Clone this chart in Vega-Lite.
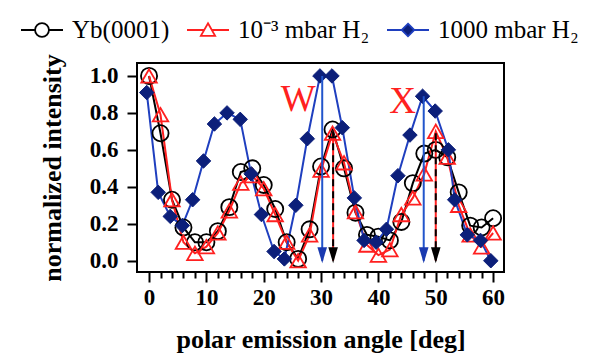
{
  "$schema": "https://vega.github.io/schema/vega-lite/v6.json",
  "width": 367,
  "height": 209,
  "autosize": {"type": "none"},
  "padding": {"left": 137, "top": 63, "right": 97, "bottom": 88},
  "background": "white",
  "config": {
    "view": {"stroke": "#000", "strokeWidth": 2},
    "font": "Liberation Serif"
  },
  "datasets": {
    "series": [
      {"series": "Yb(0001)", "angle": 0, "intensity": 1.0},
      {"series": "Yb(0001)", "angle": 2, "intensity": 0.69},
      {"series": "Yb(0001)", "angle": 4, "intensity": 0.33},
      {"series": "Yb(0001)", "angle": 6, "intensity": 0.18},
      {"series": "Yb(0001)", "angle": 8, "intensity": 0.10},
      {"series": "Yb(0001)", "angle": 10, "intensity": 0.10},
      {"series": "Yb(0001)", "angle": 12, "intensity": 0.16},
      {"series": "Yb(0001)", "angle": 14, "intensity": 0.29},
      {"series": "Yb(0001)", "angle": 16, "intensity": 0.48},
      {"series": "Yb(0001)", "angle": 18, "intensity": 0.50},
      {"series": "Yb(0001)", "angle": 20, "intensity": 0.41},
      {"series": "Yb(0001)", "angle": 22, "intensity": 0.28},
      {"series": "Yb(0001)", "angle": 24, "intensity": 0.10},
      {"series": "Yb(0001)", "angle": 26, "intensity": 0.01},
      {"series": "Yb(0001)", "angle": 28, "intensity": 0.17},
      {"series": "Yb(0001)", "angle": 30, "intensity": 0.51},
      {"series": "Yb(0001)", "angle": 32, "intensity": 0.71},
      {"series": "Yb(0001)", "angle": 34, "intensity": 0.50},
      {"series": "Yb(0001)", "angle": 36, "intensity": 0.26},
      {"series": "Yb(0001)", "angle": 38, "intensity": 0.14},
      {"series": "Yb(0001)", "angle": 40, "intensity": 0.13},
      {"series": "Yb(0001)", "angle": 42, "intensity": 0.11},
      {"series": "Yb(0001)", "angle": 44, "intensity": 0.21},
      {"series": "Yb(0001)", "angle": 46, "intensity": 0.42},
      {"series": "Yb(0001)", "angle": 48, "intensity": 0.58},
      {"series": "Yb(0001)", "angle": 50, "intensity": 0.60},
      {"series": "Yb(0001)", "angle": 52, "intensity": 0.56},
      {"series": "Yb(0001)", "angle": 54, "intensity": 0.37},
      {"series": "Yb(0001)", "angle": 56, "intensity": 0.19},
      {"series": "Yb(0001)", "angle": 58, "intensity": 0.18},
      {"series": "Yb(0001)", "angle": 60, "intensity": 0.23},
      {"series": "10⁻³ mbar H₂", "angle": 0, "intensity": 1.0},
      {"series": "10⁻³ mbar H₂", "angle": 2, "intensity": 0.79},
      {"series": "10⁻³ mbar H₂", "angle": 4, "intensity": 0.33},
      {"series": "10⁻³ mbar H₂", "angle": 6, "intensity": 0.10},
      {"series": "10⁻³ mbar H₂", "angle": 8, "intensity": 0.04},
      {"series": "10⁻³ mbar H₂", "angle": 10, "intensity": 0.076},
      {"series": "10⁻³ mbar H₂", "angle": 12, "intensity": 0.15},
      {"series": "10⁻³ mbar H₂", "angle": 14, "intensity": 0.27},
      {"series": "10⁻³ mbar H₂", "angle": 16, "intensity": 0.42},
      {"series": "10⁻³ mbar H₂", "angle": 18, "intensity": 0.46},
      {"series": "10⁻³ mbar H₂", "angle": 20, "intensity": 0.39},
      {"series": "10⁻³ mbar H₂", "angle": 22, "intensity": 0.25},
      {"series": "10⁻³ mbar H₂", "angle": 24, "intensity": 0.10},
      {"series": "10⁻³ mbar H₂", "angle": 26, "intensity": 0.0},
      {"series": "10⁻³ mbar H₂", "angle": 28, "intensity": 0.14},
      {"series": "10⁻³ mbar H₂", "angle": 30, "intensity": 0.49},
      {"series": "10⁻³ mbar H₂", "angle": 32, "intensity": 0.69},
      {"series": "10⁻³ mbar H₂", "angle": 34, "intensity": 0.53},
      {"series": "10⁻³ mbar H₂", "angle": 36, "intensity": 0.265},
      {"series": "10⁻³ mbar H₂", "angle": 38, "intensity": 0.085},
      {"series": "10⁻³ mbar H₂", "angle": 40, "intensity": 0.03},
      {"series": "10⁻³ mbar H₂", "angle": 42, "intensity": 0.06},
      {"series": "10⁻³ mbar H₂", "angle": 44, "intensity": 0.25},
      {"series": "10⁻³ mbar H₂", "angle": 46, "intensity": 0.34},
      {"series": "10⁻³ mbar H₂", "angle": 48, "intensity": 0.47},
      {"series": "10⁻³ mbar H₂", "angle": 50, "intensity": 0.70},
      {"series": "10⁻³ mbar H₂", "angle": 52, "intensity": 0.56},
      {"series": "10⁻³ mbar H₂", "angle": 54, "intensity": 0.30},
      {"series": "10⁻³ mbar H₂", "angle": 56, "intensity": 0.14},
      {"series": "10⁻³ mbar H₂", "angle": 58, "intensity": 0.075},
      {"series": "10⁻³ mbar H₂", "angle": 60, "intensity": 0.15},
      {"series": "1000 mbar H₂", "angle": -0.4, "intensity": 0.91},
      {"series": "1000 mbar H₂", "angle": 1.6, "intensity": 0.37},
      {"series": "1000 mbar H₂", "angle": 3.7, "intensity": 0.24},
      {"series": "1000 mbar H₂", "angle": 5.8, "intensity": 0.19},
      {"series": "1000 mbar H₂", "angle": 7.6, "intensity": 0.33},
      {"series": "1000 mbar H₂", "angle": 9.5, "intensity": 0.54},
      {"series": "1000 mbar H₂", "angle": 11.4, "intensity": 0.74},
      {"series": "1000 mbar H₂", "angle": 13.6, "intensity": 0.80},
      {"series": "1000 mbar H₂", "angle": 15.9, "intensity": 0.765},
      {"series": "1000 mbar H₂", "angle": 17.8, "intensity": 0.47},
      {"series": "1000 mbar H₂", "angle": 19.6, "intensity": 0.25},
      {"series": "1000 mbar H₂", "angle": 21.8, "intensity": 0.05},
      {"series": "1000 mbar H₂", "angle": 23.6, "intensity": 0.01},
      {"series": "1000 mbar H₂", "angle": 25.6, "intensity": 0.30},
      {"series": "1000 mbar H₂", "angle": 27.6, "intensity": 0.66},
      {"series": "1000 mbar H₂", "angle": 29.8, "intensity": 1.0},
      {"series": "1000 mbar H₂", "angle": 31.9, "intensity": 1.0},
      {"series": "1000 mbar H₂", "angle": 33.7, "intensity": 0.72},
      {"series": "1000 mbar H₂", "angle": 35.8, "intensity": 0.34},
      {"series": "1000 mbar H₂", "angle": 37.5, "intensity": 0.11},
      {"series": "1000 mbar H₂", "angle": 39.6, "intensity": 0.10},
      {"series": "1000 mbar H₂", "angle": 41.4, "intensity": 0.17},
      {"series": "1000 mbar H₂", "angle": 43.4, "intensity": 0.46},
      {"series": "1000 mbar H₂", "angle": 45.5, "intensity": 0.68},
      {"series": "1000 mbar H₂", "angle": 47.7, "intensity": 0.89},
      {"series": "1000 mbar H₂", "angle": 49.9, "intensity": 0.81},
      {"series": "1000 mbar H₂", "angle": 52.2, "intensity": 0.60},
      {"series": "1000 mbar H₂", "angle": 53.3, "intensity": 0.33},
      {"series": "1000 mbar H₂", "angle": 55.5, "intensity": 0.14},
      {"series": "1000 mbar H₂", "angle": 57.8, "intensity": 0.11},
      {"series": "1000 mbar H₂", "angle": 59.6, "intensity": 0.0}
    ],
    "arrows": [
      {"arrow": "blue", "angle": 30.2, "intensity": 1.0, "tip": 0},
      {"arrow": "dashed", "angle": 32.1, "intensity": 0.70, "tip": 0},
      {"arrow": "blue", "angle": 47.9, "intensity": 0.89, "tip": 0},
      {"arrow": "dashed", "angle": 50.0, "intensity": 0.69, "tip": 0}
    ],
    "heads": [
      {"arrow": "blue", "angle": 30.2, "intensity": 0},
      {"arrow": "dashed", "angle": 32.1, "intensity": 0},
      {"arrow": "blue", "angle": 47.9, "intensity": 0},
      {"arrow": "dashed", "angle": 50.0, "intensity": 0}
    ],
    "labels": [
      {"label": "W", "angle": 26.0, "intensity": 0.87},
      {"label": "X", "angle": 44.2, "intensity": 0.86}
    ]
  },
  "encoding": {
    "x": {
      "field": "angle", "type": "quantitative",
      "scale": {"domain": [-2.1, 61.9], "nice": false, "zero": false},
      "axis": {
        "title": "polar emission angle [deg]",
        "values": [0,2,4,6,8,10,12,14,16,18,20,22,24,26,28,30,32,34,36,38,40,42,44,46,48,50,52,54,56,58,60],
        "labelExpr": "datum.value % 10 === 0 ? datum.label : ''",
        "tickSize": {"condition": {"test": "datum.value % 10 === 0", "value": 10}, "value": 6},
        "tickWidth": 2, "tickColor": "#000",
        "domain": false, "grid": false,
        "labelFont": "Liberation Serif", "labelFontWeight": "bold", "labelFontSize": 23, "labelColor": "#000",
        "labelPadding": 4, "labelOverlap": false, "labelFlush": false, "labelBound": false,
        "titleFont": "Liberation Serif", "titleFontWeight": "bold", "titleFontSize": 26, "titleColor": "#000",
        "titlePadding": 17
      }
    },
    "y": {
      "field": "intensity", "type": "quantitative",
      "scale": {"domain": [-0.061, 1.07], "nice": false, "zero": false},
      "axis": {
        "title": "normalized intensity",
        "values": [0, 0.2, 0.4, 0.6, 0.8, 1.0],
        "format": ".1f",
        "tickSize": 10, "tickWidth": 2, "tickColor": "#000",
        "domain": false, "grid": false,
        "labelFont": "Liberation Serif", "labelFontWeight": "bold", "labelFontSize": 23, "labelColor": "#000",
        "labelPadding": 9, "labelOverlap": false,
        "titleFont": "Liberation Serif", "titleFontWeight": "bold", "titleFontSize": 26, "titleColor": "#000",
        "titlePadding": 24
      }
    }
  },
  "layer": [
    {
      "data": {"name": "series"},
      "mark": {"type": "line", "strokeWidth": 2},
      "encoding": {
        "color": {
          "field": "series", "type": "nominal",
          "scale": {"domain": ["Yb(0001)", "10⁻³ mbar H₂", "1000 mbar H₂"], "range": ["#000000", "#ff2020", "#1f3fbf"]},
          "legend": {
            "title": null,
            "orient": "none", "legendX": -117, "legendY": -55,
            "direction": "horizontal",
            "padding": 0,
            "symbolSize": 1764,
            "labelFont": "Liberation Serif", "labelFontSize": 25, "labelColor": "#000", "labelLimit": 0,
            "labelOffset": 8, "columnPadding": 13,
            "encode": {
              "symbols": {
                "update": {
                  "shape": {"signal": "datum.value === 'Yb(0001)' ? 'M-1,0L-0.33,0M0.33,0L1,0M-0.33,0A0.33,0.33 0 1,1 0.33,0A0.33,0.33 0 1,1 -0.33,0Z' : (datum.value === '1000 mbar H₂' ? 'M-1,0L-0.3,0M0.3,0L1,0M0,-0.3L0.3,0L0,0.3L-0.3,0Z' : 'M-1,0L-0.18,0M0.18,0L1,0M0,-0.32L0.34,0.28L-0.34,0.28Z')"},
                  "fill": {"signal": "datum.value === '1000 mbar H₂' ? '#0c1f7a' : 'white'"},
                  "stroke": {"signal": "datum.value === 'Yb(0001)' ? '#000000' : (datum.value === '1000 mbar H₂' ? '#1f3fbf' : '#ff2020')"},
                  "strokeWidth": {"value": 1.8},
                  "opacity": {"value": 1}
                }
              }
            }
          }
        }
      }
    },
    {
      "data": {"name": "series"},
      "transform": [{"filter": "datum.series === 'Yb(0001)'"}],
      "mark": {"type": "point", "shape": "circle", "size": 260, "filled": false, "stroke": "#000000", "strokeWidth": 1.8, "opacity": 1}
    },
    {
      "data": {"name": "series"},
      "transform": [{"filter": "datum.series === '10⁻³ mbar H₂'"}],
      "mark": {"type": "point", "shape": "triangle-up", "size": 240, "filled": false, "stroke": "#ff2020", "strokeWidth": 1.8, "opacity": 1}
    },
    {
      "data": {"name": "series"},
      "transform": [{"filter": "datum.series === '1000 mbar H₂'"}],
      "mark": {"type": "point", "shape": "diamond", "size": 210, "filled": true, "fill": "#0c1f7a", "stroke": "#0c1f7a", "strokeWidth": 1, "opacity": 1}
    },
    {
      "data": {"name": "arrows"},
      "transform": [{"filter": "datum.arrow === 'blue'"}],
      "mark": {"type": "rule", "color": "#2255cc", "strokeWidth": 2},
      "encoding": {"y2": {"field": "tip"}}
    },
    {
      "data": {"name": "arrows"},
      "transform": [{"filter": "datum.arrow === 'dashed'"}],
      "mark": {"type": "rule", "color": "#ff2020", "strokeWidth": 2},
      "encoding": {"y2": {"field": "tip"}}
    },
    {
      "data": {"name": "arrows"},
      "transform": [{"filter": "datum.arrow === 'dashed'"}],
      "mark": {"type": "rule", "color": "#000000", "strokeWidth": 2, "strokeDash": [7, 5]},
      "encoding": {"y2": {"field": "tip"}}
    },
    {
      "data": {"name": "heads"},
      "transform": [{"filter": "datum.arrow === 'blue'"}],
      "mark": {"type": "point", "shape": "M-0.6,-1.7L0.6,-1.7L0,0.3Z", "size": 256, "filled": true, "color": "#1a3ab0", "opacity": 1}
    },
    {
      "data": {"name": "heads"},
      "transform": [{"filter": "datum.arrow === 'dashed'"}],
      "mark": {"type": "point", "shape": "M-0.6,-1.7L0.6,-1.7L0,0.3Z", "size": 256, "filled": true, "color": "#000000", "opacity": 1}
    },
    {
      "data": {"name": "labels"},
      "mark": {"type": "text", "font": "Liberation Serif", "fontSize": 37, "color": "#ff2020", "baseline": "middle", "align": "center"},
      "encoding": {"text": {"field": "label"}}
    }
  ]
}
